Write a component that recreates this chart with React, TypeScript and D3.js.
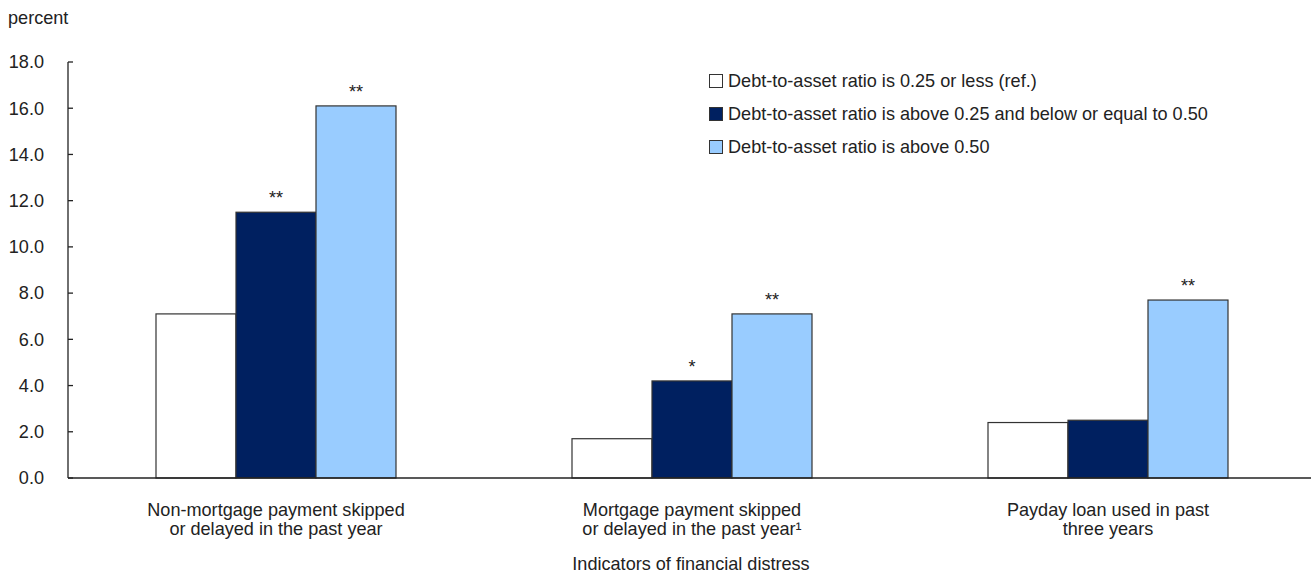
import React from "react";
import * as d3 from "d3";

const categories = [
  ["Non-mortgage payment skipped", "or delayed in the past year"],
  ["Mortgage payment skipped", "or delayed in the past year\u00B9"],
  ["Payday loan used in past", "three years"],
];
const seriesNames = [
  "Debt-to-asset ratio is 0.25 or less (ref.)",
  "Debt-to-asset ratio is above 0.25 and below or equal to 0.50",
  "Debt-to-asset ratio is above 0.50",
];
const lowValues = [7.1, 1.7, 2.4];
const midValues = [11.5, 4.2, 2.5];
const highValues = [16.1, 7.1, 7.7];
const midStars = ["**", "*", ""];
const highStars = ["**", "**", "**"];
const yTicks = [0, 2, 4, 6, 8, 10, 12, 14, 16, 18];
const colors = ["#ffffff", "#002060", "#99ccff"];

const W = 1311;
const H = 574;
const FONT = "'Liberation Sans', Arial, sans-serif";
const FS = 18.1;

export default function App() {
  const x0 = d3.scaleBand<number>().domain([0, 1, 2]).range([68, 1316]).paddingInner(0).paddingOuter(0);
  const y = d3.scaleLinear().domain([0, 18]).range([478, 62]);
  const series = [lowValues, midValues, highValues];
  const stars = [null, midStars, highStars];
  const groupW = 240;
  const x1 = d3.scaleBand<number>().domain([0, 1, 2]).range([0, groupW]).padding(0);

  return (
    <svg width={W} height={H} style={{ position: "absolute", left: 0, top: 0, fontFamily: FONT }}>
      <rect width={W} height={H} fill="#fff" />
      <text x={8} y={24} fontSize={FS} fill="#222">percent</text>
      {yTicks.map((t) => (
        <g key={t}>
          <line x1={68} x2={73} y1={y(t)} y2={y(t)} stroke="#222" strokeWidth={1.3} />
          <text x={44} y={y(t)} dy="0.35em" textAnchor="end" fontSize={FS} fill="#222">
            {t.toFixed(1)}
          </text>
        </g>
      ))}
      {categories.map((c, i) => {
        const gx = (x0(i) as number) + (x0.bandwidth() - groupW) / 2;
        return (
          <g key={i}>
            {series.map((s, j) => {
              const bx = gx + (x1(j) as number);
              const by = y(s[i]);
              const st = stars[j] ? (stars[j] as string[])[i] : "";
              return (
                <g key={j}>
                  <rect x={bx} y={by} width={x1.bandwidth()} height={y(0) - by} fill={colors[j]} stroke="#333" strokeWidth={1.2} />
                  {st && (
                    <text x={bx + x1.bandwidth() / 2} y={by - 8} textAnchor="middle" fontSize={FS} fill="#222">
                      {st}
                    </text>
                  )}
                </g>
              );
            })}
            {c.map((line, k) => (
              <text key={k} x={(x0(i) as number) + x0.bandwidth() / 2} y={516 + k * 19} textAnchor="middle" fontSize={FS} fill="#222">
                {line}
              </text>
            ))}
          </g>
        );
      })}
      <line x1={68} x2={68} y1={62} y2={478} stroke="#222" strokeWidth={1.3} />
      <line x1={68} x2={1311} y1={478} y2={478} stroke="#222" strokeWidth={1.3} />
      <text x={691} y={570} textAnchor="middle" fontSize={FS} fill="#222">Indicators of financial distress</text>
      {seriesNames.map((n, j) => (
        <g key={j}>
          <rect x={709.5} y={74.5 + j * 33} width={13} height={13} fill={colors[j]} stroke="#333" strokeWidth={1} />
          <text x={728} y={81 + j * 33} dy="0.35em" fontSize={FS} fill="#222">{n}</text>
        </g>
      ))}
    </svg>
  );
}
